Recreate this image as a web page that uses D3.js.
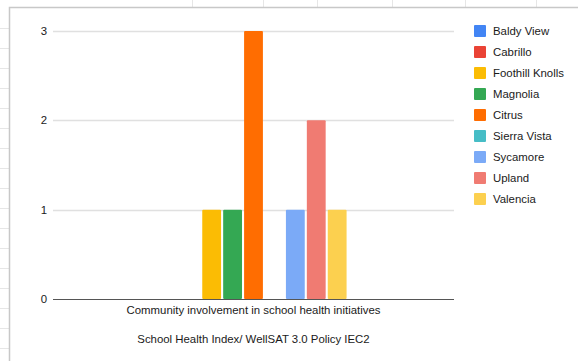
<!DOCTYPE html>
<html>
<head>
<meta charset="utf-8">
<script src="https://cdn.jsdelivr.net/npm/d3@7"></script>
<style>
  html, body { margin: 0; padding: 0; background: #fff; }
  svg { display: block; font-family: "Liberation Sans", Arial, sans-serif; }
</style>
</head>
<body>
<svg id="chart" width="578" height="361"></svg>
<script>
// Data
const categories = ["Community involvement in school health initiatives"];
const schools = ["Baldy View", "Cabrillo", "Foothill Knolls", "Magnolia", "Citrus",
                 "Sierra Vista", "Sycamore", "Upland", "Valencia"];
const scores = [0, 0, 1, 1, 3, 0, 1, 2, 1];
const colors = ["#4285F4", "#EA4335", "#FBBC04", "#34A853", "#FF6D01",
                "#46BDC6", "#7BAAF7", "#F07B72", "#FCD04F"];
const yTicks = [0, 1, 2, 3];
const xTitle = "School Health Index/ WellSAT 3.0 Policy IEC2";

const svg = d3.select("#chart");
const fontSize = 11.4;

// Sheet frame: faint row ticks on the left, column ticks on top
const rowTicks = d3.range(28, 361, 20);
svg.append("g").selectAll("line").data(rowTicks).join("line")
  .attr("x1", 0).attr("x2", 9).attr("y1", d => d + 0.5).attr("y2", d => d + 0.5)
  .attr("stroke", "#e6e6e6").attr("stroke-width", 1);
const colTicks = [192, 263, 317, 392, 465, 536];
svg.append("g").selectAll("line").data(colTicks).join("line")
  .attr("x1", d => d + 0.5).attr("x2", d => d + 0.5).attr("y1", 0).attr("y2", 7)
  .attr("stroke", "#e6e6e6").attr("stroke-width", 1);
svg.append("path")
  .attr("d", "M9.5,361 V7.5 H578")
  .attr("fill", "none").attr("stroke", "#c8c8c8").attr("stroke-width", 1.5);

// Scales
const plotLeft = 53, plotRight = 454;
const y = d3.scaleLinear().domain([0, 3]).range([299, 31]);
const x0 = d3.scaleBand().domain(categories).range([plotLeft, plotRight])
  .paddingInner(0).paddingOuter(0.577);
const x1 = d3.scaleBand().domain(schools).range([0, x0.bandwidth()])
  .paddingInner(0.1).paddingOuter(0);
const color = d3.scaleOrdinal().domain(schools).range(colors);

// Gridlines
svg.append("g").selectAll("line").data(yTicks.filter(t => t !== 0)).join("line")
  .attr("x1", plotLeft).attr("x2", plotRight)
  .attr("y1", d => Math.round(y(d)) + 0.5).attr("y2", d => Math.round(y(d)) + 0.5)
  .attr("stroke", "#e0e0e0").attr("stroke-width", 1.5);

// Y tick labels
svg.append("g").selectAll("text").data(yTicks).join("text")
  .attr("x", 47).attr("y", d => y(d)).attr("dy", "0.35em")
  .attr("text-anchor", "end").attr("font-size", fontSize).attr("fill", "#1a1a1a")
  .text(d => d);

// Bars
const rows = schools.map((s, i) => ({ school: s, value: scores[i], category: categories[0] }));
svg.append("g").selectAll("rect").data(rows.filter(d => d.value > 0)).join("rect")
  .attr("x", d => x0(d.category) + x1(d.school))
  .attr("width", x1.bandwidth())
  .attr("y", d => y(d.value))
  .attr("height", d => y(0) - y(d.value))
  .attr("rx", 1)
  .attr("fill", d => color(d.school));

// Baseline
svg.append("line")
  .attr("x1", plotLeft).attr("x2", plotRight)
  .attr("y1", y(0) + 0.5).attr("y2", y(0) + 0.5)
  .attr("stroke", "#555").attr("stroke-width", 1.2);

// Category label
svg.append("g").selectAll("text").data(categories).join("text")
  .attr("x", d => x0(d) + x0.bandwidth() / 2).attr("y", 314)
  .attr("text-anchor", "middle").attr("font-size", fontSize).attr("fill", "#1a1a1a")
  .text(d => d);

// Axis title
svg.append("text")
  .attr("x", (plotLeft + plotRight) / 2).attr("y", 343)
  .attr("text-anchor", "middle").attr("font-size", fontSize).attr("fill", "#1a1a1a")
  .text(xTitle);

// Legend
const legend = svg.append("g").selectAll("g").data(schools).join("g")
  .attr("transform", (d, i) => `translate(474, ${31 + i * 21})`);
legend.append("rect")
  .attr("x", 0).attr("y", -6).attr("width", 12).attr("height", 12)
  .attr("rx", 1).attr("fill", d => color(d));
legend.append("text")
  .attr("x", 19).attr("y", 0).attr("dy", "0.35em")
  .attr("font-size", fontSize).attr("fill", "#1a1a1a")
  .text(d => d);
</script>
</body>
</html>
